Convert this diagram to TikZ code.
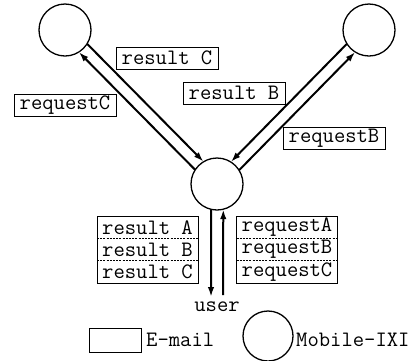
\documentclass[tikz,border=0pt]{standalone}
\usetikzlibrary{arrows.meta,calc}
\newcommand\mylbl{\ttfamily\fontsize{22}{23}\selectfont}
\begin{document}
\begin{tikzpicture}[x=1pt,y=-1pt,
  ixi/.style={circle,draw,line width=1.3pt,minimum size=52pt,inner sep=0pt,outer sep=0pt},
  mail/.style={draw,line width=0.8pt,minimum width=102pt,minimum height=22pt,inner sep=0pt,font=\mylbl},
  rowbox/.style={minimum width=101pt,minimum height=22.3pt,inner sep=0pt,outer sep=0pt,font=\mylbl},
  flow/.style={line width=2pt,-{Latex[length=10pt,width=6.5pt]}},
  sep/.style={line width=0.7pt,dash pattern=on 2pt off 1.2pt},
  txt/.style={inner sep=0pt,font=\mylbl}]
\useasboundingbox (0,0) rectangle (414,360);
% Mobile-IXI agents
\node[ixi] (tl) at (65,30) {};
\node[ixi] (tr) at (369,30) {};
\node[ixi] (c) at (217,184) {};
% diagonal flows
\draw[flow] (tl.-32.03) -- (c.121.29);
\draw[flow] (c.147.97) -- (tl.-58.71);
\draw[flow] (tr.212.03) -- (c.58.71);
\draw[flow] (c.32.03) -- (tr.238.71);
% labels
\node[mail] (rC) at (167,58) {result C};
\node[mail] (qC) at (65,105) {requestC};
\node[mail] (rB) at (234,93) {result B};
\node[mail] (qB) at (334,138) {requestB};
% vertical flows
\coordinate (dl) at (211,297);
\coordinate (ur) at (223,295);
\draw[flow] (c.-103.34) -- (dl);
\draw[flow] (ur) -- (c.-76.66);
\node[txt] (user) at (217,307) {user};
% stacked boxes
\node[rowbox] (ra) at (147.5,227.2) {result A};
\node[rowbox] (rb) at (147.5,249.5) {result B};
\node[rowbox] (rc) at (147.5,271.8) {result C};
\draw[line width=0.8pt] (ra.north west) rectangle (rc.south east);
\draw[sep] (ra.south west) -- (ra.south east);
\draw[sep] (rb.south west) -- (rb.south east);
\node[rowbox] (qa) at (287,227.2) {requestA};
\node[rowbox] (qb) at (287,249.5) {requestB};
\node[rowbox] (qc) at (287,271.8) {requestC};
\draw[line width=0.8pt] (qa.north west) rectangle (qc.south east);
\draw[sep] (qa.south west) -- (qa.south east);
\draw[sep] (qb.south west) -- (qb.south east);
% legend
\node[draw,line width=0.8pt,minimum width=52pt,minimum height=24pt,inner sep=0pt] (lm) at (115,340) {};
\node[txt,anchor=west] (lmt) at (146,340) {E-mail};
\node[ixi,minimum size=50pt] (lc) at (268,336) {};
\node[txt,anchor=west] (lct) at (296,340) {Mobile-IXI};
\end{tikzpicture}
\end{document}
